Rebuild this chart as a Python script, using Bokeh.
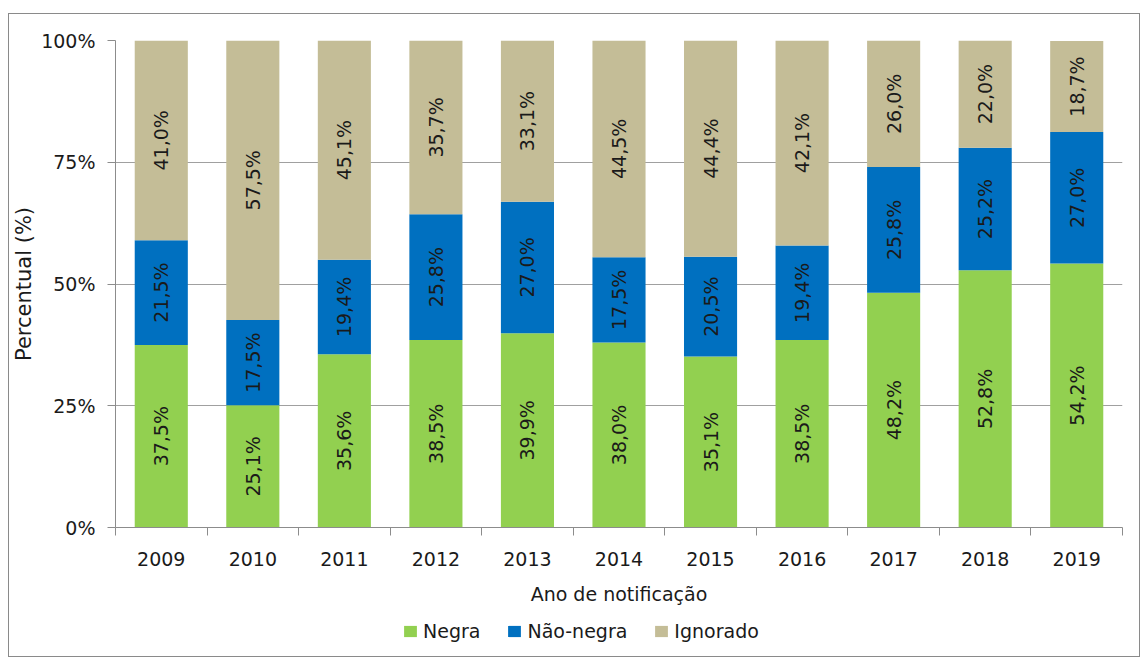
import math
from bokeh.plotting import figure
from bokeh.layouts import column
from bokeh.models import ColumnDataSource, FixedTicker, Legend, LegendItem, Range1d
from bokeh.core.properties import value
from bokeh.embed import file_html
from bokeh.resources import INLINE

years = ["2009", "2010", "2011", "2012", "2013", "2014", "2015", "2016", "2017", "2018", "2019"]
negra = [37.5, 25.1, 35.6, 38.5, 39.9, 38.0, 35.1, 38.5, 48.2, 52.8, 54.2]
nao_negra = [21.5, 17.5, 19.4, 25.8, 27.0, 17.5, 20.5, 19.4, 25.8, 25.2, 27.0]
ignorado = [41.0, 57.5, 45.1, 35.7, 33.1, 44.5, 44.4, 42.1, 26.0, 22.0, 18.7]
y_ticks = [0, 25, 50, 75, 100]
y_tick_labels = ["0%", "25%", "50%", "75%", "100%"]

series_names = ["Negra", "Não-negra", "Ignorado"]
series_vals = [negra, nao_negra, ignorado]
colors = ["#92D050", "#0070C0", "#C4BD97"]

FONT = "DejaVu Sans"
TXT = "#1a1a1a"
FS = "19px"

p = figure(frame_width=1007, frame_height=487, output_backend="svg", toolbar_location=None,
           x_range=Range1d(0, len(years)), y_range=Range1d(0, 100),
           min_border_left=104, min_border_right=17, min_border_top=26, min_border_bottom=86,
           outline_line_color=None)

xc = [i + 0.5 for i in range(len(years))]
bottoms = [0.0] * len(years)
for name, vals, col in zip(series_names, series_vals, colors):
    tops = [min(b + v, 100.0) for b, v in zip(bottoms, vals)]
    mids = [(b + t) / 2 for b, t in zip(bottoms, tops)]
    labels = [("%.1f%%" % v).replace(".", ",") for v in vals]
    src = ColumnDataSource(dict(x=xc, bottom=bottoms, top=tops, mid=mids, label=labels))
    p.vbar(x="x", bottom="bottom", top="top", width=0.58, source=src,
           fill_color=col, line_color=None)
    p.text(x="x", y="mid", text="label", source=src, angle=math.pi / 2,
           text_align="center", text_baseline="middle",
           text_font=value(FONT), text_font_size=FS, text_color=TXT)
    bottoms = tops

# axes
xax = p.xaxis[0]
xax.ticker = FixedTicker(ticks=xc, minor_ticks=list(range(len(years) + 1)))
xax.major_label_overrides = {x: y for x, y in zip(xc, years)}
xax.major_tick_line_color = None
xax.major_tick_out = 8
xax.minor_tick_line_color = "#8c8c8c"
xax.minor_tick_out = 8
xax.minor_tick_in = 0
xax.axis_line_color = "#8c8c8c"
xax.major_label_text_font = FONT
xax.major_label_text_font_size = FS
xax.major_label_text_color = TXT
xax.major_label_standoff = 16
xax.axis_label = "Ano de notificação"
xax.axis_label_text_font = FONT
xax.axis_label_text_font_size = FS
xax.axis_label_text_font_style = "normal"
xax.axis_label_text_color = TXT
xax.axis_label_standoff = 14

yax = p.yaxis[0]
yax.ticker = FixedTicker(ticks=y_ticks)
yax.major_label_overrides = {t: l for t, l in zip(y_ticks, y_tick_labels)}
yax.major_tick_line_color = "#8c8c8c"
yax.major_tick_out = 8
yax.major_tick_in = 0
yax.minor_tick_line_color = None
yax.axis_line_color = "#8c8c8c"
yax.major_label_text_font = FONT
yax.major_label_text_font_size = FS
yax.major_label_text_color = TXT
yax.major_label_standoff = 12
yax.axis_label = "Percentual (%)"
yax.axis_label_text_font = FONT
yax.axis_label_text_font_size = "21px"
yax.axis_label_text_font_style = "normal"
yax.axis_label_text_color = TXT
yax.axis_label_standoff = 2

p.xgrid.grid_line_color = None
p.ygrid.ticker = FixedTicker(ticks=y_ticks)
p.ygrid.grid_line_color = "#a0a0a0"
p.ygrid.grid_line_width = 1

# legend strip (its proxy bars use the series data but lie outside the visible range)
lg = figure(frame_width=1128, frame_height=43, output_backend="svg", toolbar_location=None,
            x_range=Range1d(-20, -10), y_range=Range1d(0, 1),
            x_axis_location=None, y_axis_location=None,
            min_border_left=0, min_border_right=0, min_border_top=0, min_border_bottom=0,
            outline_line_color=None)
lg.xgrid.grid_line_color = None
lg.ygrid.grid_line_color = None
items = []
for name, vals, col in zip(series_names, series_vals, colors):
    r = lg.vbar(x=xc, top=vals, width=0.58, fill_color=col, line_color=None)
    items.append(LegendItem(label=name, renderers=[r]))
legend = Legend(items=items, orientation="horizontal", location=(393, 14),
                label_text_font=FONT, label_text_font_size=FS, label_text_color=TXT,
                glyph_width=16, glyph_height=14, spacing=26, label_standoff=5,
                border_line_color=None, background_fill_alpha=0, padding=4, margin=0)
lg.add_layout(legend, "center")

layout = column(p, lg, spacing=0)
layout.styles = {"border": "1px solid #8a8a8a", "margin-top": "13px", "margin-left": "8px"}

open("out.html", "w").write(file_html(layout, INLINE))
